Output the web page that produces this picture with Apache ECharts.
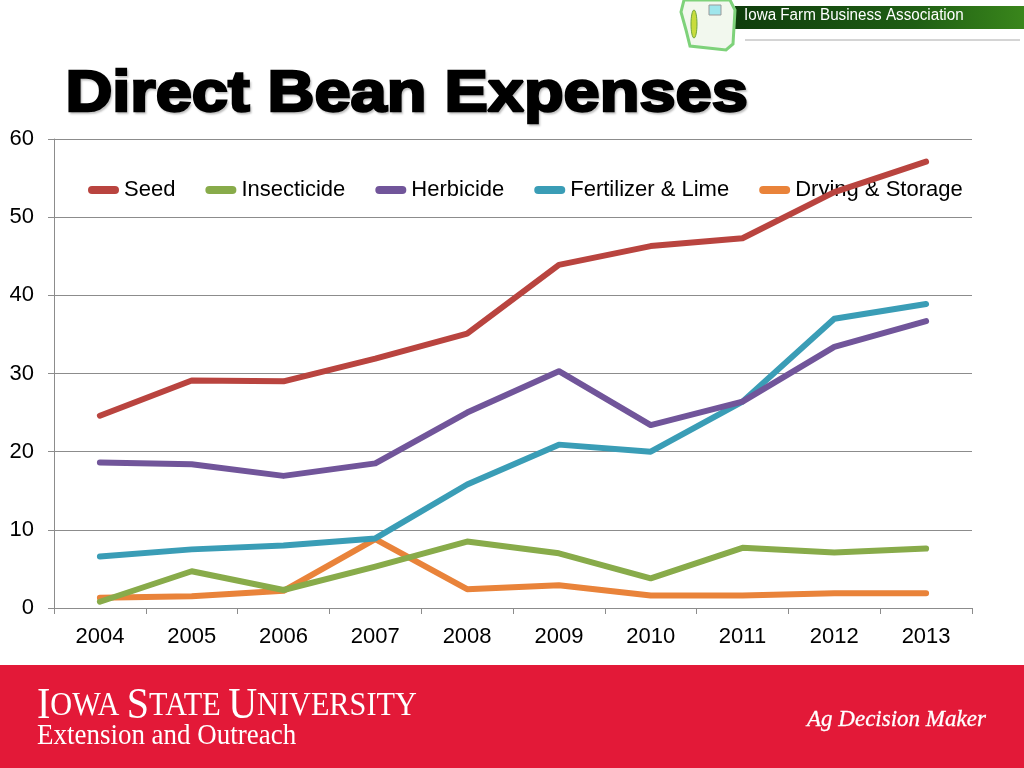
<!DOCTYPE html>
<html lang="en">

<head>
    <meta charset="UTF-8">
    <title>Direct Bean Expenses</title>
    <style>
        * {
            margin: 0;
        }

        html,
        body,
        #chart {
            width: 100%;
            height: 100%;
            background: #fff;
        }
    </style>
</head>

<body>
    <div id="chart"></div>
    <script src="https://cdn.jsdelivr.net/npm/echarts@6/dist/echarts.min.js"></script>
    <script>
        var years = ['2004', '2005', '2006', '2007', '2008', '2009', '2010', '2011', '2012', '2013'];
        var seed = [24.6, 29.1, 29.0, 31.9, 35.1, 43.9, 46.3, 47.3, 53.2, 57.1];
        var insecticide = [0.8, 4.7, 2.3, 5.3, 8.5, 7.0, 3.8, 7.7, 7.1, 7.6];
        var herbicide = [18.6, 18.4, 16.9, 18.5, 25.0, 30.3, 23.4, 26.4, 33.4, 36.7];
        var fertilizer = [6.6, 7.5, 8.0, 8.9, 15.8, 20.9, 20.0, 26.4, 37.0, 38.9];
        var drying = [1.3, 1.5, 2.2, 8.8, 2.4, 2.9, 1.6, 1.6, 1.9, 1.9];
        var yTicks = [0, 10, 20, 30, 40, 50, 60];

        var names = ['Seed', 'Insecticide', 'Herbicide', 'Fertilizer & Lime', 'Drying & Storage'];
        var colors = ['#B9443F', '#88AB4A', '#71559A', '#3A9DB6', '#E9833A'];
        var values = [seed, insecticide, herbicide, fertilizer, drying];
        var font = '"Liberation Sans", Arial, sans-serif';
        var serif = '"Liberation Serif", "Times New Roman", serif';

        var chart = echarts.init(document.getElementById('chart'));

        var series = [];
        for (var i = 0; i < names.length; i++) {
            series.push({
                name: names[i],
                type: 'line',
                data: values[i],
                symbol: 'none',
                color: colors[i],
                lineStyle: { width: 6, color: colors[i], cap: 'round', join: 'round' },
                z: 10 - i
            });
        }

        var option = {
            animation: false,
            textStyle: { fontFamily: font },
            grid: { left: 54, right: 52, top: 139, bottom: 160 },
            legend: {
                data: names,
                left: 88,
                top: 179,
                padding: 0,
                itemWidth: 31,
                itemHeight: 8,
                itemGap: 30,
                icon: 'path://M4,0 H27 A4,4 0 0 1 27,8 H4 A4,4 0 0 1 4,0 Z',
                textStyle: { fontSize: 22, color: '#000', fontFamily: font }
            },
            xAxis: {
                type: 'category',
                data: years,
                boundaryGap: true,
                axisLine: { lineStyle: { color: '#8c8c8c', width: 1 } },
                axisTick: { show: true, length: 6, alignWithLabel: false, lineStyle: { color: '#8c8c8c' } },
                axisLabel: { fontSize: 22, color: '#000', margin: 18, fontFamily: font }
            },
            yAxis: {
                type: 'value',
                min: yTicks[0],
                max: yTicks[yTicks.length - 1],
                interval: yTicks[1] - yTicks[0],
                axisLine: { show: true, lineStyle: { color: '#8c8c8c', width: 1 } },
                axisTick: { show: true, length: 6, lineStyle: { color: '#8c8c8c' } },
                axisLabel: { fontSize: 22, color: '#000', margin: 20, fontFamily: font },
                splitLine: { lineStyle: { color: '#8c8c8c', width: 1 } }
            },
            series: series,
            graphic: [
                // title
                {
                    type: 'text',
                    left: 64,
                    top: 65,
                    scaleX: 1.12,
                    style: {
                        text: 'Direct Bean Expenses',
                        font: 'bold 58px ' + font,
                        fill: '#000',
                        stroke: '#000',
                        lineWidth: 2.5,
                        textShadowColor: 'rgba(0,0,0,0.18)',
                        textShadowOffsetX: 1.5,
                        textShadowOffsetY: 1.5,
                        textShadowBlur: 2
                    }
                },
                // IFBA banner
                {
                    type: 'rect',
                    shape: { x: 735, y: 6, width: 300, height: 23, r: [0, 11, 11, 0] },
                    style: {
                        fill: new echarts.graphic.LinearGradient(0, 0, 1, 0, [
                            { offset: 0, color: '#0f3d0c' },
                            { offset: 0.6, color: '#1f5e14' },
                            { offset: 1, color: '#3c8a1c' }
                        ])
                    }
                },
                {
                    type: 'text',
                    left: 744,
                    top: 8,
                    scaleX: 0.95,
                    style: { text: 'Iowa Farm Business Association', font: '16px ' + font, fill: '#fff' }
                },
                {
                    type: 'line',
                    shape: { x1: 745, y1: 40, x2: 1020, y2: 40 },
                    style: { stroke: '#aaa', lineWidth: 1 }
                },
                // map icon
                {
                    type: 'polygon',
                    shape: { points: [[684, 0], [730, 0], [735, 10], [733, 44], [726, 50], [690, 46], [686, 30], [681, 12]] },
                    style: { fill: '#f2f8ee', stroke: '#7ed27a', lineWidth: 3 }
                },
                {
                    type: 'ellipse',
                    shape: { cx: 694, cy: 24, rx: 3, ry: 14 },
                    style: { fill: '#c8dc3c', stroke: '#6fa53a', lineWidth: 1 }
                },
                {
                    type: 'rect',
                    shape: { x: 709, y: 5, width: 12, height: 10 },
                    style: { fill: '#9fe6ec', stroke: '#999', lineWidth: 1 }
                },
                // footer band
                {
                    type: 'rect',
                    shape: { x: 0, y: 665, width: 1024, height: 103 },
                    style: { fill: '#E31938' }
                },
                {
                    type: 'text',
                    left: 37,
                    top: 684,
                    scaleX: 0.89,
                    style: {
                        rich: {
                            b: { font: '45px ' + serif, fill: '#fff' },
                            s: { font: '34px ' + serif, fill: '#fff' }
                        },
                        text: '{b|I}{s|OWA }{b|S}{s|TATE }{b|U}{s|NIVERSITY}'
                    }
                },
                {
                    type: 'text',
                    left: 37,
                    top: 722,
                    scaleX: 0.93,
                    style: { text: 'Extension and Outreach', font: '29px ' + serif, fill: '#fff' }
                },
                {
                    type: 'text',
                    right: 38,
                    top: 708,
                    style: {
                        text: 'Ag Decision Maker', font: 'italic 23px ' + serif, fill: '#fff',
                        stroke: '#fff', lineWidth: 0.3
                    }
                }
            ]
        };
        chart.setOption(option);
    </script>
</body>

</html>
